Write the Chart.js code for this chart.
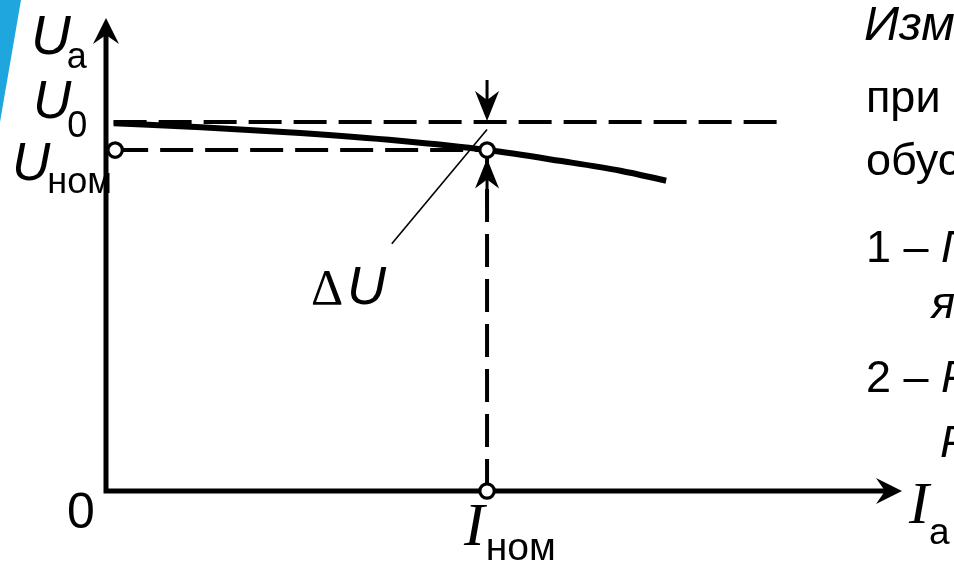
<!DOCTYPE html>
<html>
<head>
<meta charset="utf-8">
<script src="https://cdn.jsdelivr.net/npm/chart.js@4/dist/chart.umd.min.js"></script>
<style>
  html, body { margin: 0; padding: 0; background: #ffffff; }
  #wrap { width: 954px; height: 562px; position: relative; overflow: hidden; }
</style>
</head>
<body>
<div id="wrap"><canvas id="chart" width="954" height="562"></canvas></div>
<script>
// External characteristic U_a(I_a), in relative units (I / I_nom, U / U_0)
const currentRel = [0.02, 0.25, 0.51, 0.77, 1.0, 1.19, 1.35, 1.47];
const voltageRel = [0.997, 0.986, 0.970, 0.949, 0.924, 0.895, 0.868, 0.841];

// Characteristic points
const U0 = 1.0;       // no-load voltage
const Unom = 0.924;   // rated voltage
const Inom = 1.0;     // rated current
const u0GuideEnd = 1.785;

// Leader line of the ΔU label
const leaderX = [0.75, 1.0];
const leaderY = [0.67, 0.98];

// Axis extents
const xAxisMax = 2.089;
const yAxisMax = 1.282;

// Side notes
const noteLines = [
  { parts: [{ t: 'Изменение напряжения', i: true }], x: 864, y: 40, size: 49 },
  { parts: [{ t: 'при нагрузке', i: false }], x: 866, y: 112, size: 45 },
  { parts: [{ t: 'обусловлено:', i: false }], x: 866, y: 175, size: 45 },
  { parts: [{ t: '1 – ', i: false }, { t: 'Падением', i: true }], x: 866, y: 262, size: 45 },
  { parts: [{ t: 'якоря', i: true }], x: 931, y: 318, size: 45 },
  { parts: [{ t: '2 – ', i: false }, { t: 'Реакцией', i: true }], x: 866, y: 392, size: 45 },
  { parts: [{ t: 'Размагничиванием', i: true }], x: 940, y: 457, size: 45 }
];

const SANS = '"Liberation Sans", Arial, sans-serif';
const SERIF = '"Liberation Serif", "Times New Roman", serif';

function arrowHead(ctx, tipX, tipY, dx, dy, len, halfW, indent) {
  const bx = tipX - dx * len, by = tipY - dy * len;
  const px = -dy, py = dx;
  ctx.beginPath();
  ctx.moveTo(tipX, tipY);
  ctx.lineTo(bx + px * halfW, by + py * halfW);
  ctx.lineTo(tipX - dx * (len - indent), tipY - dy * (len - indent));
  ctx.lineTo(bx - px * halfW, by - py * halfW);
  ctx.closePath();
  ctx.fill();
}

function label(ctx, main, mainFont, sub, subFont, x, yMain, ySub, subGap) {
  ctx.font = mainFont;
  ctx.fillText(main, x, yMain);
  const w = ctx.measureText(main).width;
  ctx.font = subFont;
  ctx.fillText(sub, x + w + subGap, ySub);
}

const diagramPlugin = {
  id: 'diagram',
  beforeDraw(chart) {
    const ctx = chart.ctx;
    ctx.save();
    ctx.fillStyle = '#ffffff';
    ctx.fillRect(0, 0, chart.width, chart.height);
    // slide accent stripe
    ctx.fillStyle = '#1fa6df';
    ctx.beginPath();
    ctx.moveTo(0, 0);
    ctx.lineTo(21, 0);
    ctx.lineTo(0, 122);
    ctx.closePath();
    ctx.fill();
    ctx.restore();
  },
  beforeDatasetsDraw(chart) {
    const ctx = chart.ctx;
    const xs = chart.scales.x, ys = chart.scales.y;
    const x0 = xs.getPixelForValue(0), y0 = ys.getPixelForValue(0);
    const xEnd = xs.getPixelForValue(xAxisMax), yEnd = ys.getPixelForValue(yAxisMax);
    ctx.save();
    ctx.fillStyle = '#000';

    // U_nom level label sits under the vertical axis line
    ctx.textBaseline = 'alphabetic';
    ctx.textAlign = 'left';
    const yUn = ys.getPixelForValue(Unom);
    label(ctx, 'U', 'italic 53px ' + SANS, 'ном', '36px ' + SANS, 12, yUn + 30, yUn + 43, -3);

    ctx.strokeStyle = '#000';
    ctx.lineWidth = 5;
    ctx.lineCap = 'butt';
    ctx.beginPath();
    ctx.moveTo(x0, y0 + 2.5);
    ctx.lineTo(x0, yEnd + 14);
    ctx.moveTo(x0 - 2.5, y0);
    ctx.lineTo(xEnd - 14, y0);
    ctx.stroke();
    arrowHead(ctx, x0, yEnd, 0, -1, 26, 13, 9);
    arrowHead(ctx, xEnd, y0, 1, 0, 26, 13, 9);
    ctx.restore();
  },
  afterDatasetsDraw(chart) {
    const ctx = chart.ctx;
    const xs = chart.scales.x, ys = chart.scales.y;
    const y0 = ys.getPixelForValue(0);
    const xI = xs.getPixelForValue(Inom);
    const yU0 = ys.getPixelForValue(U0), yUn = ys.getPixelForValue(Unom);
    ctx.save();
    ctx.fillStyle = '#000';
    ctx.strokeStyle = '#000';

    // ΔU dimension arrows
    ctx.lineWidth = 3;
    ctx.beginPath();
    ctx.moveTo(xI, yU0 - 42);
    ctx.lineTo(xI, yU0 - 20);
    ctx.moveTo(xI, yUn + 25);
    ctx.lineTo(xI, yUn + 55);
    ctx.stroke();
    arrowHead(ctx, xI, yU0 - 1, 0, 1, 30, 12, 9);
    arrowHead(ctx, xI, yUn + 8.5, 0, -1, 30, 12, 9);

    ctx.textBaseline = 'alphabetic';
    ctx.textAlign = 'left';

    // axis titles and levels
    label(ctx, 'U', 'italic 55px ' + SANS, 'a', '36px ' + SANS, 31, 54, 68, -4);
    label(ctx, 'U', 'italic 53px ' + SANS, '0', '36px ' + SANS, 33, yU0 - 4, yU0 + 15, -4);
    ctx.font = '50px ' + SANS;
    ctx.fillText('0', 67, y0 + 37);
    label(ctx, 'I', 'italic 62px ' + SERIF, 'ном', '39px ' + SANS, xI - 23, y0 + 54, y0 + 69, 1);
    label(ctx, 'I', 'italic 60px ' + SERIF, 'a', '37px ' + SANS, 909, y0 + 32, y0 + 53, 0);

    // ΔU
    ctx.font = '50px ' + SERIF;
    ctx.fillText('Δ', 311, 304);
    ctx.font = 'italic 54px ' + SANS;
    ctx.fillText('U', 347, 304);

    // side notes
    for (const line of noteLines) {
      let x = line.x;
      for (const p of line.parts) {
        ctx.font = (p.i ? 'italic ' : '') + line.size + 'px ' + SANS;
        ctx.fillText(p.t, x, line.y);
        x += ctx.measureText(p.t).width;
      }
    }
    ctx.restore();
  }
};

const pts = (xs, ys) => xs.map((x, i) => ({ x: x, y: ys[i] }));
const dash = [33, 12];

// lower "order" is painted on top: markers above the curve, curve above the guides
new Chart(document.getElementById('chart'), {
  type: 'scatter',
  data: {
    datasets: [
      {
        label: 'points',
        order: 0,
        data: pts([0.024, Inom, Inom], [Unom, Unom, 0]),
        showLine: false, pointRadius: 7.2, pointBorderWidth: 3.2,
        pointBackgroundColor: '#fff', pointBorderColor: '#000', clip: false
      },
      {
        label: 'U(I)',
        order: 1,
        data: pts(currentRel, voltageRel),
        showLine: true, borderColor: '#000', borderWidth: 6,
        cubicInterpolationMode: 'monotone', pointRadius: 0, clip: false
      },
      {
        label: 'leader',
        order: 2,
        data: pts(leaderX, leaderY),
        showLine: true, borderColor: '#000', borderWidth: 1.6,
        pointRadius: 0, clip: false
      },
      {
        label: 'U0 guide',
        order: 3,
        data: pts([0.02, u0GuideEnd], [U0, U0]),
        showLine: true, borderColor: '#000', borderWidth: 4, borderDash: dash,
        pointRadius: 0, clip: false
      },
      {
        label: 'Unom guide',
        order: 3,
        data: pts([0.024, Inom], [Unom, Unom]),
        showLine: true, borderColor: '#000', borderWidth: 4, borderDash: dash,
        pointRadius: 0, clip: false
      },
      {
        label: 'Inom guide',
        order: 3,
        data: pts([Inom, Inom], [Unom, 0]),
        showLine: true, borderColor: '#000', borderWidth: 4, borderDash: dash,
        borderDashOffset: 6, pointRadius: 0, clip: false
      }
    ]
  },
  options: {
    responsive: false,
    animation: false,
    devicePixelRatio: 1,
    layout: { padding: { left: 106, right: 52, top: 18, bottom: 71 } },
    plugins: { legend: { display: false }, tooltip: { enabled: false }, title: { display: false } },
    scales: {
      x: { type: 'linear', min: 0, max: xAxisMax, display: false },
      y: { type: 'linear', min: 0, max: yAxisMax, display: false }
    },
    events: []
  },
  plugins: [diagramPlugin]
});
</script>
</body>
</html>
